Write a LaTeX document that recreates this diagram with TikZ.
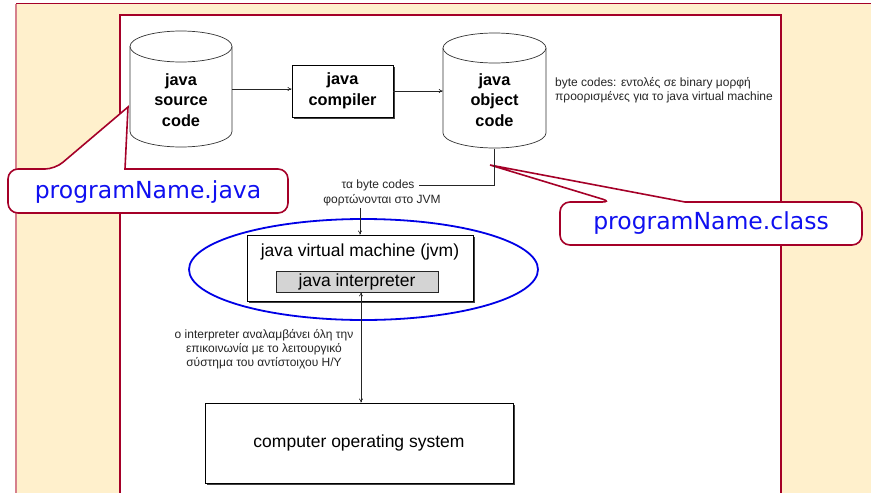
\documentclass[tikz,border=0pt]{standalone}
\usepackage{fontspec}
\setmainfont{Liberation Sans}
\newfontfamily\calloutfont{DejaVu Sans}
\usetikzlibrary{shapes.geometric,shadows,arrows.meta}
\definecolor{beige}{RGB}{255,240,204}
\definecolor{dred}{RGB}{165,0,40}
\definecolor{pinkline}{RGB}{214,128,140}
\definecolor{calblue}{RGB}{16,16,240}
\definecolor{ellblue}{RGB}{0,0,230}
\begin{document}
\begin{tikzpicture}[x=1pt,y=-1pt,
  lbl/.style={font=\fontsize{17.5}{20}\selectfont, inner sep=0pt},
  cyltext/.style={font=\bfseries\fontsize{16.3}{20.5}\selectfont, align=center, inner sep=0pt},
  cylbody/.style={draw=black!80, line width=0.7pt, fill=white},
  box/.style={draw=black, line width=0.8pt, fill=white, inner sep=0pt,
    drop shadow={shadow xshift=1.6pt, shadow yshift=-1.6pt, opacity=1, fill=black!75}},
  small/.style={font=\fontsize{12}{14}\selectfont, inner sep=0pt, text=black!85},
  conn/.style={line width=0.6pt, draw=black!85},
  arr/.style={conn, -{To[length=4pt,width=4pt]}},
  biarr/.style={conn, {To[length=4pt,width=4pt]}-{To[length=4pt,width=4pt]}},
  callout/.style={draw=dred, line width=1.6pt, fill=white},
  calltext/.style={font=\calloutfont\fontsize{23.5}{28}\selectfont, text=calblue, inner sep=0pt}
]
\useasboundingbox (0,0) rectangle (871,493);
% backgrounds
\fill[beige] (16,3.5) rectangle (872,494);
\draw[dred, line width=1.5pt] (16,3.5) -- (872,3.5);
\draw[pinkline, line width=1.5pt] (16,3.5) -- (16,494);
\draw[dred, line width=2pt, fill=white] (120,500) -- (120,15) -- (781,15) -- (781,500);

% callouts
\draw[callout] (55,169) [sharp corners] -- (128,107) -- (125,169) [rounded corners=10pt] -- (288,169) -- (288,213) -- (8,213) -- (8,169) -- cycle;
\node[calltext] (jname) at (148,192) {programName.java};
\draw[callout] (612,202) [sharp corners] -- (490,165) -- (685,202) [rounded corners=10pt] -- (862,202) -- (862,245) -- (560,245) -- (560,202) -- cycle;
\node[calltext] (cname) at (711,223) {programName.class};

% source cylinder
\draw[cylbody] (130,46.5) -- (130,131.5) arc[start angle=180, end angle=0, x radius=51, y radius=15.5] -- (232,46.5);
\draw[cylbody] (181,46.5) ellipse[x radius=51, y radius=15.5];
\node[minimum width=102pt, minimum height=116pt, inner sep=0pt] (src) at (181,89) {};
\node[cyltext] (srctxt) at (181,100) {java\\source\\code};

% object cylinder
\draw[cylbody] (443,48) -- (443,133) arc[start angle=180, end angle=0, x radius=51.5, y radius=15] -- (546,48);
\draw[cylbody] (494.5,48) ellipse[x radius=51.5, y radius=15];
\node[minimum width=103pt, minimum height=116pt, inner sep=0pt] (obj) at (494.5,90.5) {};
\node[cyltext] (objtxt) at (494.5,100) {java\\object\\code};

% compiler
\node[box, minimum width=101pt, minimum height=52pt, cyltext] (comp) at (342.5,91) {java\\compiler};

\draw[arr] (src.east) -- (src.east -| comp.west);
\draw[arr] (comp.east) -- (comp.east -| obj.west);

% notes
\node[small, anchor=west, align=left] (bcnote) at (555,90) {byte codes: εντολές σε binary μορφή\\προορισμένες για το java virtual machine};
\node[small, inner xsep=4pt, inner ysep=1pt] (bt1) at (378,185) {τα byte codes};
\node[small, inner ysep=2pt] (bt2) at (382,200) {φορτώνονται στο JVM};

% jvm
\node[ellipse, draw=ellblue, line width=1.8pt, minimum width=349pt, minimum height=101pt, inner sep=0pt] (jvmell) at (363.5,269.5) {};
\node[box, minimum width=226pt, minimum height=66pt] (jvm) at (360,268) {};
\node[lbl] (jvmtxt) at (360,252) {java virtual machine (jvm)};
\node[draw=black!85, line width=0.7pt, fill=black!17, minimum width=162pt, minimum height=21pt, lbl] (interp) at (357,281.5) {java interpreter};

\draw[conn] (obj.south) |- (bt1.east);
\draw[arr] (bt2.south -| jvm.north) -- (jvm.north);

% interpreter note
\node[small, align=center] (inote) at (264,349) {ο interpreter αναλαμβάνει όλη την\\επικοινωνία με το λειτουργικό\\σύστημα του αντίστοιχου Η/Υ};

% OS
\node[box, minimum width=308pt, minimum height=80pt, lbl] (os) at (359,443) {computer operating system};
\draw[biarr] ([xshift=4pt]interp.south) -- ([xshift=4pt]interp.south |- os.north);
\end{tikzpicture}
\end{document}
